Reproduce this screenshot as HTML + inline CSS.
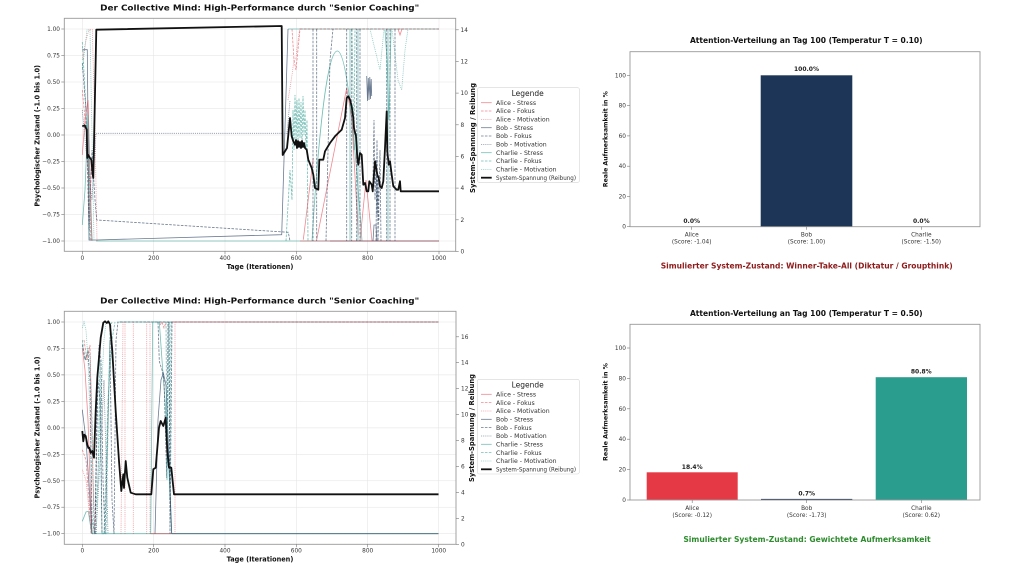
<!DOCTYPE html>
<html><head><meta charset="utf-8"><style>
html,body{margin:0;padding:0;background:#fff;}
svg{display:block;font-family:"DejaVu Sans","Liberation Sans",sans-serif;}
.t{fill:#333;font-size:5.8px;}
.g{stroke:#e2e2e2;stroke-width:.5;}
.sp{fill:none;stroke:#999;stroke-width:.9;}
.tk{stroke:#777;stroke-width:.6;}
.a{fill:none;stroke:#e63946;opacity:.6;stroke-width:.8;}
.b{fill:none;stroke:#1d3557;opacity:.65;stroke-width:.8;}
.c{fill:none;stroke:#2a9d8f;opacity:.65;stroke-width:.8;}
.d{stroke-dasharray:2.6 1.3;}
.o{stroke-dasharray:.8 1.1;}
.k{fill:none;stroke:#111;stroke-width:1.8;stroke-linejoin:round;}
.lg{font-size:6.2px;fill:#333;}
.bl{font-weight:bold;}
</style></head><body>
<svg width="1024" height="576" viewBox="0 0 1024 576" xmlns="http://www.w3.org/2000/svg">
<rect width="1024" height="576" fill="#fff"/>

<!-- ================= TOP LEFT ================= -->
<g>
<text x="259.7" y="10.5" text-anchor="middle" class="bl" font-size="8" fill="#111" textLength="319" lengthAdjust="spacingAndGlyphs">Der Collective Mind: High-Performance durch "Senior Coaching"</text>
<!-- grid -->
<g class="g">
<line x1="82.3" y1="18.3" x2="82.3" y2="251.3"/><line x1="153.7" y1="18.3" x2="153.7" y2="251.3"/><line x1="225" y1="18.3" x2="225" y2="251.3"/><line x1="296.3" y1="18.3" x2="296.3" y2="251.3"/><line x1="367.7" y1="18.3" x2="367.7" y2="251.3"/><line x1="439" y1="18.3" x2="439" y2="251.3"/>
<line x1="64.3" y1="29" x2="455.7" y2="29"/><line x1="64.3" y1="55.5" x2="455.7" y2="55.5"/><line x1="64.3" y1="82" x2="455.7" y2="82"/><line x1="64.3" y1="108.5" x2="455.7" y2="108.5"/><line x1="64.3" y1="135" x2="455.7" y2="135"/><line x1="64.3" y1="161.5" x2="455.7" y2="161.5"/><line x1="64.3" y1="188" x2="455.7" y2="188"/><line x1="64.3" y1="214.5" x2="455.7" y2="214.5"/><line x1="64.3" y1="241" x2="455.7" y2="241"/>
</g>
<!-- series -->
<!-- horizontal saturations -->
<polyline class="c" points="96,241 439,241"/>
<polyline class="b" points="330,241 439,241"/>
<polyline class="a" points="300,241 439,241"/>
<polyline class="c" points="288,29 439,29"/>
<polyline class="c d" points="300,29 439,29"/>
<polyline class="a d" points="300,29 439,29"/>
<!-- early region -->
<polyline class="b" points="82.3,49.7 87.3,49.7 89,240 96,240 281.7,234.7 288,29"/>
<polyline class="c d" points="82.3,42 85,90 88,160 90,241"/>
<polyline class="a o" points="82.3,60 86,40 89,29.7 92.3,29.7 95,130 97,241"/>
<polyline class="b d" points="82.3,63 86,110 89,230 92,150 95,200 96.7,220 288.3,232.3 290,241"/>
<polyline class="a" points="82.3,155 85,120 88,100 90,170 92,240"/>
<polyline class="c" points="82.3,225 85,190 88,115 90,200 92,241"/>
<polyline class="b o" points="82.3,110 86,150 92,200 96,133.3 287,133.3 290,100"/>
<polyline class="c o" points="82.3,70 87,30 90,30 94,241"/>
<polyline class="a d" points="82.3,90 87,140 91,241"/>
<!-- mid/late region -->
<polyline class="a o" points="288,100 290,88 292,75 294,60 296,58 298,40 300,28"/>
<polyline class="c d" points="286,241 290,170 292,200 293,110 294,150 295,95 296,140 297,100 298,145 299,98 300,138 301,102 302,148 303,96 304,135 305,110 306,150 307,120 308,241"/>
<path class="c" d="M312 241 C320 110 329 51 337.3 51 C345 51 352 100 362 241"/>
<polyline class="a" points="303.3,239.7 313.3,158"/>
<polyline class="a" points="316.7,239.7 346.7,88 351.7,118 358.3,234.7"/>
<polyline class="a" points="360,241 366,180 372,241"/>
<polyline class="b d" points="313,29 313,241"/>
<polyline class="b d" points="316.7,29 316.7,241"/>
<polyline class="b d" points="326,241 330,60 333,29"/>
<polyline class="b d" points="346.7,29 346.7,241"/>
<polyline class="b d" points="351.7,29 351.7,241"/>
<polyline class="b d" points="356.7,241 356.7,29"/>
<polyline class="b d" points="360,29 360,241"/>
<polyline class="b d" points="376,241 377,140 378,241 380,150 381,241"/>
<polyline class="b d" points="386.7,29 386.7,241"/>
<polyline class="b d" points="390,29 390,241"/>
<polyline class="b d" points="395,29 395,241"/>
<polyline class="c" points="350,29 350,241"/>
<polyline class="c" points="358,29 358,241"/>
<polyline class="c" points="388,29 388,241"/>
<polyline class="c" points="385,30 387,60 389,120 391,30"/>
<polyline class="b" points="366.7,76 367.5,101 368.3,78 369,100 369.8,77 370.5,99 371.2,79 371.7,96"/>
<polyline class="b d" points="373,180 374,120 375,200 376,160 377,215 378,180 379,220"/>
<polyline class="b" points="373,241 374,225 376,225 377,241"/>
<polyline class="c o" points="370,29 380,70 384,29"/>
<polyline class="c o" points="392,29 398,80 401.7,90 405,50 408,29"/>
<polyline class="a" points="398,29 400,35 402,29"/>
<polyline class="c d" points="352,29 354,150 355,29"/>
<polyline class="a d" points="292,29 294,60 296,70 300,29"/>
<!-- black system line -->
<polyline class="k" points="82.3,126.3 84.7,125.3 86.7,129.7 87.3,158 88,154.7 90,158 91.3,159.7 92.7,174.7 93.3,178 96.3,29.7 281.7,26 282.7,155 287,148 290,118 291.7,136.3 293.3,141.3 295,144.7 296,140 297,148 298,141 299,147 300,142 301,148 302,141 303,147 304,143 305,148 306.7,149.7 308.3,159.7 311.7,168 313.3,174.7 315,188 318.3,189.7 319.3,159.7 323.3,159.7 325,151.3 330,143 335,136.3 338.3,133 341.7,129.7 345,118 346.7,98 348.3,96.3 350,99.7 351.7,106.3 353.3,118 354,128 356,136.3 357.3,158 358.3,164.7 360,153 361.7,154.7 363.3,184.7 365,183 366.7,191.3 368.3,191.3 369.3,181.3 371.7,184.7 372.7,191.3 375,161.3 377.3,174.7 378.7,178 380,186.3 381.7,188 383.3,181.3 385,148 386.7,111.3 387.3,151.3 388.7,164.7 390,161.3 391.7,174.7 393.3,186.3 396.7,189.7 398.3,189.7 400,181.3 400.7,191.3 439,191.3"/>
<!-- spines -->
<rect class="sp" x="64.3" y="18.3" width="391.4" height="233"/>
<!-- left ticks -->
<g class="tk">
<line x1="61.3" y1="29" x2="64.3" y2="29"/><line x1="61.3" y1="55.5" x2="64.3" y2="55.5"/><line x1="61.3" y1="82" x2="64.3" y2="82"/><line x1="61.3" y1="108.5" x2="64.3" y2="108.5"/><line x1="61.3" y1="135" x2="64.3" y2="135"/><line x1="61.3" y1="161.5" x2="64.3" y2="161.5"/><line x1="61.3" y1="188" x2="64.3" y2="188"/><line x1="61.3" y1="214.5" x2="64.3" y2="214.5"/><line x1="61.3" y1="241" x2="64.3" y2="241"/>
<line x1="82.3" y1="251.3" x2="82.3" y2="254.3"/><line x1="153.7" y1="251.3" x2="153.7" y2="254.3"/><line x1="225" y1="251.3" x2="225" y2="254.3"/><line x1="296.3" y1="251.3" x2="296.3" y2="254.3"/><line x1="367.7" y1="251.3" x2="367.7" y2="254.3"/><line x1="439" y1="251.3" x2="439" y2="254.3"/>
<line x1="455.7" y1="251.5" x2="458.7" y2="251.5"/><line x1="455.7" y1="219.8" x2="458.7" y2="219.8"/><line x1="455.7" y1="188.1" x2="458.7" y2="188.1"/><line x1="455.7" y1="156.5" x2="458.7" y2="156.5"/><line x1="455.7" y1="124.8" x2="458.7" y2="124.8"/><line x1="455.7" y1="93.1" x2="458.7" y2="93.1"/><line x1="455.7" y1="61.4" x2="458.7" y2="61.4"/><line x1="455.7" y1="29.8" x2="458.7" y2="29.8"/>
</g>
<g class="t" text-anchor="end">
<text x="60" y="31">1.00</text><text x="60" y="57.5">0.75</text><text x="60" y="84">0.50</text><text x="60" y="110.5">0.25</text><text x="60" y="137">0.00</text><text x="60" y="163.5">−0.25</text><text x="60" y="190">−0.50</text><text x="60" y="216.5">−0.75</text><text x="60" y="243">−1.00</text>
</g>
<g class="t" text-anchor="middle">
<text x="82.3" y="260">0</text><text x="153.7" y="260">200</text><text x="225" y="260">400</text><text x="296.3" y="260">600</text><text x="367.7" y="260">800</text><text x="439" y="260">1000</text>
</g>
<g class="t">
<text x="460.5" y="253.5">0</text><text x="460.5" y="221.8">2</text><text x="460.5" y="190.1">4</text><text x="460.5" y="158.5">6</text><text x="460.5" y="126.8">8</text><text x="460.5" y="95.1">10</text><text x="460.5" y="63.4">12</text><text x="460.5" y="31.8">14</text>
</g>
<text x="260" y="268.8" text-anchor="middle" class="bl" font-size="6.8" fill="#111" textLength="66.7" lengthAdjust="spacingAndGlyphs">Tage (Iterationen)</text>
<text transform="translate(39.3,135.8) rotate(-90)" text-anchor="middle" class="bl" font-size="6.8" fill="#111" textLength="141.7" lengthAdjust="spacingAndGlyphs">Psychologischer Zustand (-1.0 bis 1.0)</text>
<text transform="translate(475,138) rotate(-90)" text-anchor="middle" class="bl" font-size="6.8" fill="#111" textLength="110" lengthAdjust="spacingAndGlyphs">System-Spannung / Reibung</text>
<!-- legend -->
<rect x="477.5" y="87.7" width="102" height="94.7" rx="2" fill="#fff" fill-opacity=".85" stroke="#d5d5d5" stroke-width=".6"/>
<text x="527.7" y="96" text-anchor="middle" font-size="7.5" fill="#222">Legende</text>
<g>
<line class="a" x1="481" y1="102.7" x2="491.7" y2="102.7"/><text class="lg" x="496" y="104.9">Alice - Stress</text>
<line class="a d" x1="481" y1="111" x2="491.7" y2="111"/><text class="lg" x="496" y="113.2">Alice - Fokus</text>
<line class="a o" x1="481" y1="119.4" x2="491.7" y2="119.4"/><text class="lg" x="496" y="121.6">Alice - Motivation</text>
<line class="b" x1="481" y1="127.7" x2="491.7" y2="127.7"/><text class="lg" x="496" y="129.9">Bob - Stress</text>
<line class="b d" x1="481" y1="136" x2="491.7" y2="136"/><text class="lg" x="496" y="138.2">Bob - Fokus</text>
<line class="b o" x1="481" y1="144.4" x2="491.7" y2="144.4"/><text class="lg" x="496" y="146.6">Bob - Motivation</text>
<line class="c" x1="481" y1="152.7" x2="491.7" y2="152.7"/><text class="lg" x="496" y="154.9">Charlie - Stress</text>
<line class="c d" x1="481" y1="161" x2="491.7" y2="161"/><text class="lg" x="496" y="163.2">Charlie - Fokus</text>
<line class="c o" x1="481" y1="169.4" x2="491.7" y2="169.4"/><text class="lg" x="496" y="171.6">Charlie - Motivation</text>
<line stroke="#111" stroke-width="1.8" x1="481" y1="177.7" x2="491.7" y2="177.7"/><text class="lg" x="496" y="179.9" textLength="80" lengthAdjust="spacingAndGlyphs">System-Spannung (Reibung)</text>
</g>
</g>

<!-- ================= BOTTOM LEFT ================= -->
<g>
<text x="259.7" y="303.5" text-anchor="middle" class="bl" font-size="8" fill="#111" textLength="319" lengthAdjust="spacingAndGlyphs">Der Collective Mind: High-Performance durch "Senior Coaching"</text>
<g class="g">
<line x1="82.3" y1="311.3" x2="82.3" y2="544.3"/><line x1="153.7" y1="311.3" x2="153.7" y2="544.3"/><line x1="225" y1="311.3" x2="225" y2="544.3"/><line x1="296.3" y1="311.3" x2="296.3" y2="544.3"/><line x1="367.7" y1="311.3" x2="367.7" y2="544.3"/><line x1="438.7" y1="311.3" x2="438.7" y2="544.3"/>
<line x1="64.3" y1="322" x2="456" y2="322"/><line x1="64.3" y1="348.5" x2="456" y2="348.5"/><line x1="64.3" y1="374.9" x2="456" y2="374.9"/><line x1="64.3" y1="401.4" x2="456" y2="401.4"/><line x1="64.3" y1="427.9" x2="456" y2="427.9"/><line x1="64.3" y1="454.3" x2="456" y2="454.3"/><line x1="64.3" y1="480.8" x2="456" y2="480.8"/><line x1="64.3" y1="507.2" x2="456" y2="507.2"/><line x1="64.3" y1="533.7" x2="456" y2="533.7"/>
</g>
<!-- saturations -->
<polyline class="c" points="92,533.7 438.5,533.7"/>
<polyline class="b" points="172,533.7 438.5,533.7"/>
<polyline class="c" points="117,322 438.5,322"/>
<polyline class="b d" points="120,322 438.5,322"/>
<polyline class="a" points="172,322 438.5,322"/>
<!-- early chaos -->
<polyline class="c o" points="82.3,328 84,322 86,330 88,360 90,420 92,533.7 96,533.7 100,420 104,340 106,322"/>
<polyline class="b d" points="82.3,344.7 85,360 88,352 90,380 92,520 95,533.7 97,400 99,345 101,360 103,480 105,533.7 108,420 110,340 112,500 114,533.7 116,340 118,322"/>
<polyline class="a" points="82.3,348 85,370 88,420 90,480 92,533.7"/>
<polyline class="b" points="82.3,409.7 86,440 90,500 92,533.7"/>
<polyline class="a d" points="82.3,449.7 86,460 89,500 91,533.7"/>
<polyline class="a o" points="82.3,469.7 86,480 90,520 92,533.7"/>
<polyline class="c" points="82.3,521.3 86,512 88.3,511.3 91.7,533.7"/>
<polyline class="c d" points="82.3,340 84,352 86,360 88,348 90,356 92,420 94,533.7 98,480 100,360 102,533.7 106,533.7 110,330 112,322"/>
<polyline class="a d" points="84,340 87,360 90,345 93,480 95,533.7"/>
<polyline class="b d" points="95,533.7 98,380 100,400 102,533.7"/>
<polyline class="c d" points="104,533.7 108,400 112,340 115,322"/>
<polyline class="b o" points="96,533.7 100,460 104,380 108,533.7"/>
<!-- pink dotted verticals -->
<polyline class="a o" points="125,322 125,533.7"/>
<polyline class="a o" points="133.3,322 133.3,533.7"/>
<polyline class="a o" points="146.7,322 146.7,533.7"/>
<polyline class="a o" points="150,322 150,533.7"/>
<polyline class="a o" points="175,322 175,533.7"/>
<polyline class="a o" points="121,533.7 123,322"/>
<!-- hump region -->
<polyline class="c" points="150.7,533.7 152.7,322 159.3,322 162,360 165,400 168,450 171.7,533.7"/>
<polyline class="b" points="155,533.7 158,420 161,380 163.3,373 166,385 169,460 171.7,533.7"/>
<polyline class="b d" points="158,322 159.3,361.3 162,370 164,380 166.7,478 168,322"/>
<polyline class="c d" points="166,322 167,480 169,322 170,500 171,322"/>
<polyline class="b d" points="169,322 170,533.7 172,322"/>
<polyline class="a" points="150.7,533.7 171.7,533.7"/>
<polyline class="a d" points="160,325 162,322 164,328 166,322"/>
<!-- black -->
<polyline class="k" points="82.3,431 83.3,441.3 84.3,434.7 85.7,436 87.3,444.7 88.3,448 89.3,447.7 90.7,453 92.3,451 94,457.7 95.7,411 97.3,377.7 100.7,337.7 103.3,322.7 105,321.3 106.7,323 107.3,322.7 108.3,321.3 110,324.3 112.3,351 115.7,411 119,461 121.3,491 123.3,474.3 124,488 125.7,461 127.3,477.7 130.7,492.7 135.7,494.3 151.3,494.3 153.3,469.3 155.7,467.7 159,427.7 160.7,421 163.3,426 165.7,417.7 167.3,451 169,467.7 171.3,467.7 174,494.3 438.5,494.3"/>
<rect class="sp" x="64.3" y="311.3" width="391.7" height="233"/>
<g class="tk">
<line x1="61.3" y1="322" x2="64.3" y2="322"/><line x1="61.3" y1="348.5" x2="64.3" y2="348.5"/><line x1="61.3" y1="374.9" x2="64.3" y2="374.9"/><line x1="61.3" y1="401.4" x2="64.3" y2="401.4"/><line x1="61.3" y1="427.9" x2="64.3" y2="427.9"/><line x1="61.3" y1="454.3" x2="64.3" y2="454.3"/><line x1="61.3" y1="480.8" x2="64.3" y2="480.8"/><line x1="61.3" y1="507.2" x2="64.3" y2="507.2"/><line x1="61.3" y1="533.7" x2="64.3" y2="533.7"/>
<line x1="82.3" y1="544.3" x2="82.3" y2="547.3"/><line x1="153.7" y1="544.3" x2="153.7" y2="547.3"/><line x1="225" y1="544.3" x2="225" y2="547.3"/><line x1="296.3" y1="544.3" x2="296.3" y2="547.3"/><line x1="367.7" y1="544.3" x2="367.7" y2="547.3"/><line x1="438.7" y1="544.3" x2="438.7" y2="547.3"/>
<line x1="456" y1="544.3" x2="459" y2="544.3"/><line x1="456" y1="518.4" x2="459" y2="518.4"/><line x1="456" y1="492.4" x2="459" y2="492.4"/><line x1="456" y1="466.5" x2="459" y2="466.5"/><line x1="456" y1="440.5" x2="459" y2="440.5"/><line x1="456" y1="414.6" x2="459" y2="414.6"/><line x1="456" y1="388.7" x2="459" y2="388.7"/><line x1="456" y1="362.7" x2="459" y2="362.7"/><line x1="456" y1="336.8" x2="459" y2="336.8"/>
</g>
<g class="t" text-anchor="end">
<text x="60" y="324">1.00</text><text x="60" y="350.5">0.75</text><text x="60" y="376.9">0.50</text><text x="60" y="403.4">0.25</text><text x="60" y="429.9">0.00</text><text x="60" y="456.3">−0.25</text><text x="60" y="482.8">−0.50</text><text x="60" y="509.2">−0.75</text><text x="60" y="535.7">−1.00</text>
</g>
<g class="t" text-anchor="middle">
<text x="82.3" y="552.5">0</text><text x="153.7" y="552.5">200</text><text x="225" y="552.5">400</text><text x="296.3" y="552.5">600</text><text x="367.7" y="552.5">800</text><text x="438.7" y="552.5">1000</text>
</g>
<g class="t">
<text x="461" y="546.3">0</text><text x="461" y="520.4">2</text><text x="461" y="494.4">4</text><text x="461" y="468.5">6</text><text x="461" y="442.5">8</text><text x="461" y="416.6">10</text><text x="461" y="390.7">12</text><text x="461" y="364.7">14</text><text x="461" y="338.8">16</text>
</g>
<text x="260" y="561.3" text-anchor="middle" class="bl" font-size="6.8" fill="#111" textLength="66.7" lengthAdjust="spacingAndGlyphs">Tage (Iterationen)</text>
<text transform="translate(39.3,427.5) rotate(-90)" text-anchor="middle" class="bl" font-size="6.8" fill="#111" textLength="142" lengthAdjust="spacingAndGlyphs">Psychologischer Zustand (-1.0 bis 1.0)</text>
<text transform="translate(474,428) rotate(-90)" text-anchor="middle" class="bl" font-size="6.8" fill="#111" textLength="108" lengthAdjust="spacingAndGlyphs">System-Spannung / Reibung</text>
<rect x="477.3" y="379.3" width="102" height="94.7" rx="2" fill="#fff" fill-opacity=".85" stroke="#d5d5d5" stroke-width=".6"/>
<text x="527.7" y="387.6" text-anchor="middle" font-size="7.5" fill="#222">Legende</text>
<g>
<line class="a" x1="481" y1="394.3" x2="491.7" y2="394.3"/><text class="lg" x="496" y="396.5">Alice - Stress</text>
<line class="a d" x1="481" y1="402.6" x2="491.7" y2="402.6"/><text class="lg" x="496" y="404.8">Alice - Fokus</text>
<line class="a o" x1="481" y1="411" x2="491.7" y2="411"/><text class="lg" x="496" y="413.2">Alice - Motivation</text>
<line class="b" x1="481" y1="419.3" x2="491.7" y2="419.3"/><text class="lg" x="496" y="421.5">Bob - Stress</text>
<line class="b d" x1="481" y1="427.6" x2="491.7" y2="427.6"/><text class="lg" x="496" y="429.8">Bob - Fokus</text>
<line class="b o" x1="481" y1="436" x2="491.7" y2="436"/><text class="lg" x="496" y="438.2">Bob - Motivation</text>
<line class="c" x1="481" y1="444.3" x2="491.7" y2="444.3"/><text class="lg" x="496" y="446.5">Charlie - Stress</text>
<line class="c d" x1="481" y1="452.6" x2="491.7" y2="452.6"/><text class="lg" x="496" y="454.8">Charlie - Fokus</text>
<line class="c o" x1="481" y1="461" x2="491.7" y2="461"/><text class="lg" x="496" y="463.2">Charlie - Motivation</text>
<line stroke="#111" stroke-width="1.8" x1="481" y1="469.3" x2="491.7" y2="469.3"/><text class="lg" x="496" y="471.5" textLength="80" lengthAdjust="spacingAndGlyphs">System-Spannung (Reibung)</text>
</g>
</g>

<!-- ================= TOP RIGHT BAR ================= -->
<g>
<text x="806.3" y="43" text-anchor="middle" class="bl" font-size="7.6" fill="#111" textLength="232.7" lengthAdjust="spacingAndGlyphs">Attention-Verteilung an Tag 100 (Temperatur T = 0.10)</text>
<rect x="760.7" y="75.3" width="91.6" height="151.4" fill="#1d3557"/>
<rect class="sp" x="630" y="51.7" width="350" height="175"/>
<g class="tk">
<line x1="627" y1="226.7" x2="630" y2="226.7"/><line x1="627" y1="196.4" x2="630" y2="196.4"/><line x1="627" y1="166.2" x2="630" y2="166.2"/><line x1="627" y1="135.9" x2="630" y2="135.9"/><line x1="627" y1="105.6" x2="630" y2="105.6"/><line x1="627" y1="75.3" x2="630" y2="75.3"/>
<line x1="691.7" y1="226.7" x2="691.7" y2="229.7"/><line x1="806.5" y1="226.7" x2="806.5" y2="229.7"/><line x1="921.3" y1="226.7" x2="921.3" y2="229.7"/>
</g>
<g class="t" text-anchor="end">
<text x="626" y="228.7">0</text><text x="626" y="198.4">20</text><text x="626" y="168.2">40</text><text x="626" y="137.9">60</text><text x="626" y="107.6">80</text><text x="626" y="77.3">100</text>
</g>
<g class="t" text-anchor="middle">
<text x="691.7" y="236.5">Alice</text><text x="691.7" y="243.5">(Score: -1.04)</text>
<text x="806.5" y="236.5">Bob</text><text x="806.5" y="243.5">(Score: 1.00)</text>
<text x="921.3" y="236.5">Charlie</text><text x="921.3" y="243.5">(Score: -1.50)</text>
</g>
<g class="bl" font-size="6" fill="#222" text-anchor="middle">
<text x="691.7" y="223.2">0.0%</text><text x="806.5" y="71">100.0%</text><text x="921.3" y="223.2">0.0%</text>
</g>
<text transform="translate(607.5,139.2) rotate(-90)" text-anchor="middle" class="bl" font-size="6" fill="#111" textLength="96" lengthAdjust="spacingAndGlyphs">Reale Aufmerksamkeit in %</text>
<text x="806.7" y="268.6" text-anchor="middle" class="bl" font-size="8.2" fill="#8e1b1b" textLength="292" lengthAdjust="spacingAndGlyphs">Simulierter System-Zustand: Winner-Take-All (Diktatur / Groupthink)</text>
</g>

<!-- ================= BOTTOM RIGHT BAR ================= -->
<g>
<text x="806.3" y="316.2" text-anchor="middle" class="bl" font-size="7.6" fill="#111" textLength="232.7" lengthAdjust="spacingAndGlyphs">Attention-Verteilung an Tag 100 (Temperatur T = 0.50)</text>
<rect x="646.7" y="472.3" width="91" height="27.7" fill="#e63946"/>
<rect x="761" y="498.9" width="91.3" height="1.1" fill="#1d3557"/>
<rect x="875.7" y="377.2" width="91.3" height="122.8" fill="#2a9d8f"/>
<rect class="sp" x="630" y="324.3" width="350" height="175.7"/>
<g class="tk">
<line x1="627" y1="500" x2="630" y2="500"/><line x1="627" y1="469.6" x2="630" y2="469.6"/><line x1="627" y1="439.2" x2="630" y2="439.2"/><line x1="627" y1="408.8" x2="630" y2="408.8"/><line x1="627" y1="378.4" x2="630" y2="378.4"/><line x1="627" y1="348" x2="630" y2="348"/>
<line x1="692.2" y1="500" x2="692.2" y2="503"/><line x1="806.7" y1="500" x2="806.7" y2="503"/><line x1="921.3" y1="500" x2="921.3" y2="503"/>
</g>
<g class="t" text-anchor="end">
<text x="626" y="502">0</text><text x="626" y="471.6">20</text><text x="626" y="441.2">40</text><text x="626" y="410.8">60</text><text x="626" y="380.4">80</text><text x="626" y="350">100</text>
</g>
<g class="t" text-anchor="middle">
<text x="692.2" y="510">Alice</text><text x="692.2" y="517">(Score: -0.12)</text>
<text x="806.7" y="510">Bob</text><text x="806.7" y="517">(Score: -1.73)</text>
<text x="921.3" y="510">Charlie</text><text x="921.3" y="517">(Score: 0.62)</text>
</g>
<g class="bl" font-size="6" fill="#222" text-anchor="middle">
<text x="692.2" y="468.9">18.4%</text><text x="806.7" y="495.5">0.7%</text><text x="921.3" y="373.5">80.8%</text>
</g>
<text transform="translate(607.5,412) rotate(-90)" text-anchor="middle" class="bl" font-size="6" fill="#111" textLength="98" lengthAdjust="spacingAndGlyphs">Reale Aufmerksamkeit in %</text>
<text x="807" y="541.9" text-anchor="middle" class="bl" font-size="8.2" fill="#2e8b2e" textLength="247.3" lengthAdjust="spacingAndGlyphs">Simulierter System-Zustand: Gewichtete Aufmerksamkeit</text>
</g>
</svg>
</body></html>
